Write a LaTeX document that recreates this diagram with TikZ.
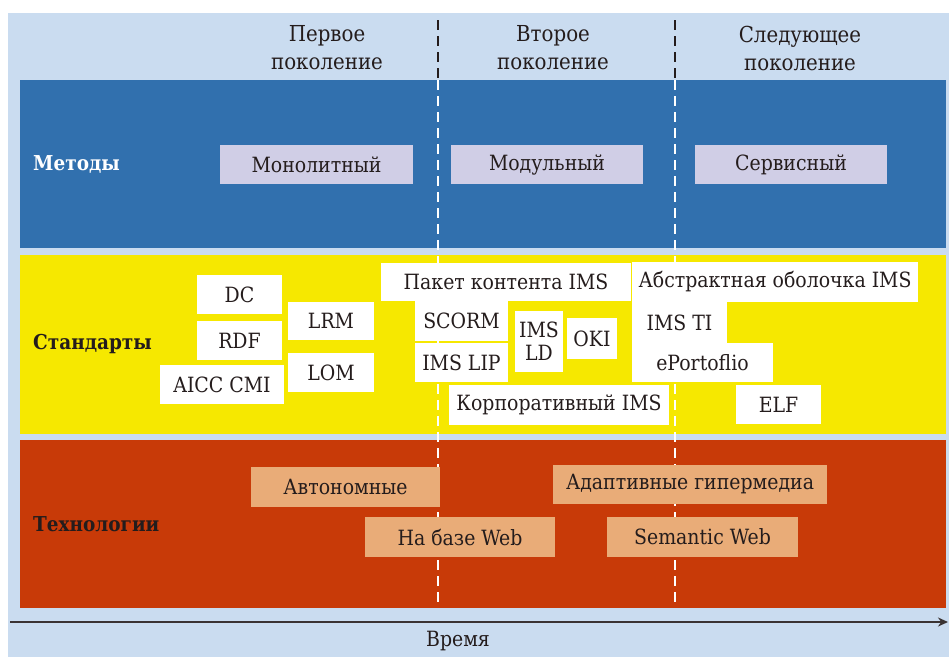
\documentclass[tikz,border=0pt]{standalone}
\usepackage{fontspec}
\setmainfont{DejaVu Serif Condensed}
\usetikzlibrary{arrows.meta}
\definecolor{bgblue}{HTML}{CADCF0}
\definecolor{bandblue}{HTML}{3170AE}
\definecolor{bandyellow}{HTML}{F6E800}
\definecolor{bandred}{HTML}{C83A08}
\definecolor{lavender}{HTML}{D0CEE6}
\definecolor{peach}{HTML}{E9AC78}
\definecolor{ink}{HTML}{241C1C}
\newcommand\bx[7]{\node[#2, anchor=north west, minimum width={#5-#3}, minimum height={#6-#4}] (#1) at (#3,-#4) {#7};}
\tikzset{
  txt/.style={font=\fontsize{21}{23}\selectfont, text=ink},
  abox/.style={txt, inner sep=0pt, outer sep=0pt},
  methbox/.style={abox, fill=lavender},
  stdbox/.style={abox, fill=white},
  techbox/.style={abox, fill=peach},
  band/.style={inner sep=0pt, outer sep=0pt},
  bandlabel/.style={anchor=west, font=\bfseries\fontsize{20.5}{22}\selectfont, inner sep=0pt},
  head/.style={font=\fontsize{22}{24}\selectfont, text=ink, align=center, inner sep=0pt},
  darkdash/.style={draw=ink, line width=2.8pt, dash pattern=on 10pt off 6pt},
  whitedash/.style={draw=white, line width=2.6pt, dash pattern=on 10pt off 6pt},
}
\begin{document}
\begin{tikzpicture}[x=1pt,y=1pt]
\useasboundingbox (0,0) rectangle (949,-657);
\fill[white] (0,0) rectangle (949,-657);
\fill[bgblue] (8,-13) rectangle (949,-657);
% bands
\bx{methods}{band, fill=bandblue}{20}{80}{946}{248}{}
\bx{standards}{band, fill=bandyellow}{20}{255}{946}{434}{}
\bx{techs}{band, fill=bandred}{20}{440}{946}{608}{}
% dashed dividers
\coordinate (d1top) at (438,-20);
\coordinate (d1mid) at (438,-80);
\coordinate (d1bot) at (438,-608);
\coordinate (d2top) at (675,-20);
\coordinate (d2mid) at (675,-80);
\coordinate (d2bot) at (675,-608);
\draw[darkdash] (d1top) -- (d1mid);
\draw[darkdash] (d2top) -- (d2mid);
\draw[whitedash] (d1mid) -- (d1bot);
\draw[whitedash] (d2mid) -- (d2bot);
% headers
\node[head] (h1) at (327,-48) {Первое\\[4pt]поколение};
\node[head] (h2) at (553,-48) {Второе\\[4pt]поколение};
\node[head] (h3) at (800,-48) {Следующее\\[4pt]поколение};
% band labels
\node[bandlabel, text=white] (lm) at (33,-164) {Методы};
\node[bandlabel, text=ink] (ls) at (33,-344) {Стандарты};
\node[bandlabel, text=ink] (lt) at (33,-524) {Технологии};
% methods
\bx{mono}{methbox}{220}{145}{413}{184}{Монолитный}
\bx{modul}{methbox}{451}{145}{643}{184}{Модульный}
\bx{serv}{methbox}{695}{145}{887}{184}{Сервисный}
% standards
\bx{dc}{stdbox}{197}{275}{282}{314}{DC}
\bx{rdf}{stdbox}{197}{321}{282}{360}{RDF}
\bx{aicc}{stdbox}{160}{365}{284}{404}{AICC CMI}
\bx{lrm}{stdbox}{288}{302}{374}{340}{LRM}
\bx{lom}{stdbox}{288}{353}{374}{392}{LOM}
\bx{pak}{stdbox}{381}{263}{631}{301}{Пакет контента IMS}
\bx{scorm}{stdbox}{415}{301}{508}{341}{SCORM}
\bx{lip}{stdbox}{415}{343}{508}{382}{IMS LIP}
\bx{ld}{stdbox, align=center}{515}{311}{563}{372}{IMS\\[0pt]LD}
\bx{oki}{stdbox}{567}{318}{617}{359}{OKI}
\bx{korp}{stdbox}{449}{385}{669}{425}{Корпоративный IMS}
\bx{abs}{stdbox}{632}{262}{918}{302}{Абстрактная оболочка IMS}
\bx{ti}{stdbox}{632}{301}{727}{344}{IMS TI}
\bx{epf}{stdbox}{632}{343}{773}{382}{ePortoflio}
\bx{elf}{stdbox}{736}{385}{821}{424}{ELF}
% technologies
\bx{auto}{techbox}{251}{467}{440}{507}{Автономные}
\bx{web}{techbox}{365}{517}{555}{557}{На базе Web}
\bx{adapt}{techbox}{553}{465}{827}{504}{Адаптивные гипермедиа}
\bx{sem}{techbox}{607}{517}{798}{557}{Semantic Web}
% time axis
\coordinate (tstart) at (10,-622);
\coordinate (tend) at (948,-622);
\draw[draw=ink!90, line width=2.4pt, -{Stealth[length=10pt,width=9pt]}] (tstart) -- (tend);
\node[txt, inner sep=0pt] (time) at (458,-641) {Время};
\end{tikzpicture}
\end{document}
